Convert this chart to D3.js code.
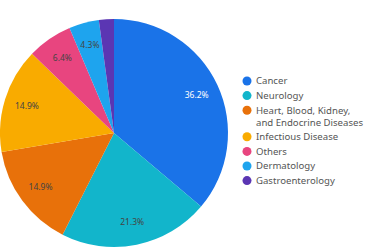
<!DOCTYPE html>
<html>
<head>
<meta charset="utf-8">
<script src="https://cdn.jsdelivr.net/npm/d3@7"></script>
<style>
  body { margin: 0; background: #fff; }
  svg { display: block; font-family: "Noto Sans", sans-serif; }
</style>
</head>
<body>
<div id="chart"></div>
<script>
// data
const categories = ["Cancer", "Neurology", "Heart, Blood, Kidney, and Endocrine Diseases",
  "Infectious Disease", "Others", "Dermatology", "Gastroenterology"]
const counts = [17, 10, 7, 7, 3, 2, 1]
const legendLines = [["Cancer"], ["Neurology"], ["Heart, Blood, Kidney,", "and Endocrine Diseases"],
  ["Infectious Disease"], ["Others"], ["Dermatology"], ["Gastroenterology"]]
const colors = ["#1a73e8", "#12b5cb", "#e8710a", "#f9ab00", "#e8457f", "#1ea4ee", "#5b36b3"]

const width = 380
const height = 252
const radius = 114
const cx = 114, cy = 133

const svg = d3.select("#chart").append("svg")
  .attr("width", width)
  .attr("height", height)

const dataset = categories.map((c, i) => ({ name: c, value: counts[i], lines: legendLines[i] }))
const total = d3.sum(counts)

const color = d3.scaleOrdinal().domain(categories).range(colors)

const pie = d3.pie().sort(null).value(d => d.value)
const arc = d3.arc().innerRadius(0).outerRadius(radius)
const labelArc = d3.arc().innerRadius(radius * 0.8).outerRadius(radius * 0.8)

const g = svg.append("g").attr("transform", `translate(${cx},${cy})`)
const arcs = pie(dataset)

g.selectAll("path")
  .data(arcs)
  .join("path")
  .attr("d", arc)
  .attr("fill", d => color(d.data.name))
  .attr("stroke", "none")

const fmt = d3.format(".1%")
g.selectAll("text")
  .data(arcs.filter(d => d.data.value / total > 0.03))
  .join("text")
  .attr("transform", d => `translate(${labelArc.centroid(d)})`)
  .attr("text-anchor", "middle")
  .attr("dy", "0.35em")
  .attr("font-size", 8.5)
  .attr("fill", (d, i) => i === 0 ? "#fff" : "#444")
  .text(d => fmt(d.data.value / total))

// legend
const legend = svg.append("g").attr("transform", "translate(247,81)")
let y = 0
dataset.forEach(d => {
  const item = legend.append("g").attr("transform", `translate(0,${y})`)
  item.append("circle").attr("r", 4.5).attr("fill", color(d.name))
  d.lines.forEach((t, j) => {
    item.append("text")
      .attr("x", 9)
      .attr("y", j * 12)
      .attr("dy", "0.35em")
      .attr("font-size", 9.6)
      .attr("fill", "#555")
      .text(t)
  })
  y += 14.6 + (d.lines.length - 1) * 12
})
</script>
</body>
</html>
